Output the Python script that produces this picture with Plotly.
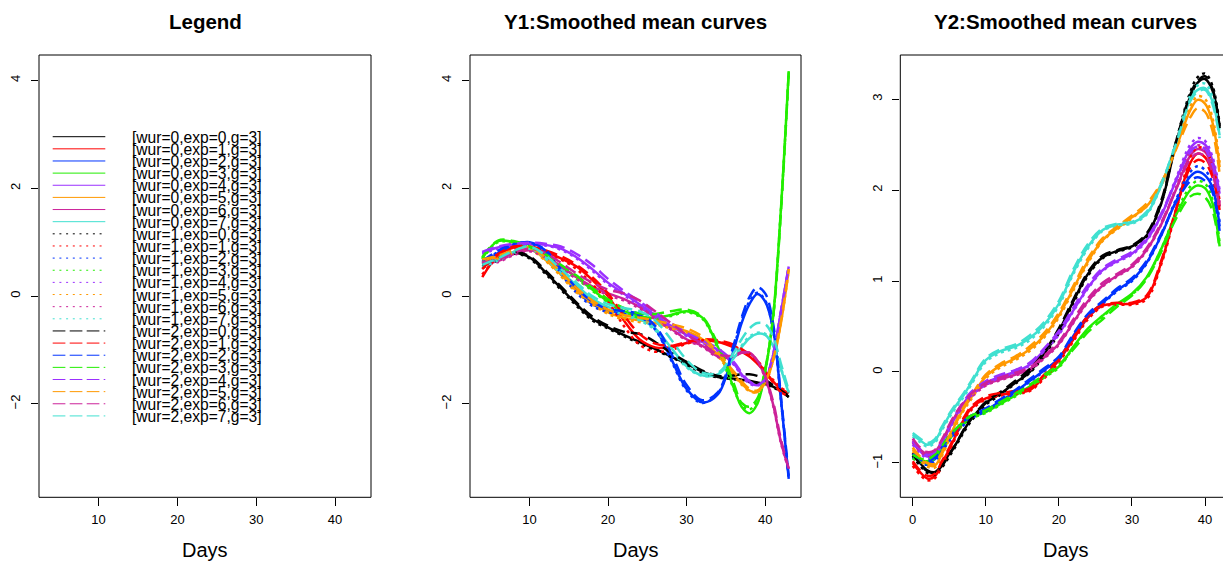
import plotly.graph_objects as go

W, H = 1223, 562

# ---------------- data ----------------
days_y1 = [4, 6, 8, 10, 12, 14, 16, 18, 20, 22, 24, 26, 28, 30, 32, 34, 36, 37, 38, 39, 40, 41, 42, 43]
days_y2 = [0, 1, 2, 3, 4, 5, 6, 7, 8, 10, 12, 14, 16, 18, 20, 22, 24, 26, 28, 30, 32, 34, 36, 38, 39, 40, 41, 42]

colors = ["#000000", "#ff0000", "#0033ff", "#22ee00", "#9b30ff", "#ff9900", "#cc2299", "#40e0d0"]
wur_levels = [0, 1, 2]
exp_levels = [0, 1, 2, 3, 4, 5, 6, 7]

# Y1 : smoothed mean curves (wur, exp)
y1_w0_e0 = [0.55,0.68,0.80,0.72,0.45,0.15,-0.15,-0.42,-0.58,-0.72,-0.85,-0.98,-1.12,-1.25,-1.40,-1.50,-1.53,-1.55,-1.57,-1.60,-1.63,-1.68,-1.76,-1.87]
y1_w1_e0 = [0.52,0.66,0.79,0.70,0.42,0.12,-0.18,-0.45,-0.60,-0.74,-0.88,-1.00,-1.13,-1.27,-1.42,-1.51,-1.54,-1.56,-1.58,-1.61,-1.64,-1.69,-1.77,-1.87]
y1_w2_e0 = [0.58,0.70,0.82,0.74,0.48,0.18,-0.12,-0.38,-0.55,-0.66,-0.70,-0.85,-1.05,-1.22,-1.38,-1.48,-1.47,-1.45,-1.45,-1.48,-1.55,-1.65,-1.75,-1.85]
y1_w0_e1 = [0.35,0.75,0.90,0.90,0.82,0.70,0.55,0.30,0.00,-0.45,-0.80,-0.95,-0.95,-0.87,-0.83,-0.85,-0.95,-1.03,-1.12,-1.25,-1.40,-1.58,-1.72,-1.80]
y1_w1_e1 = [0.40,0.72,0.88,0.88,0.80,0.68,0.50,0.22,-0.10,-0.55,-0.90,-1.03,-1.00,-0.88,-0.82,-0.84,-0.93,-1.00,-1.08,-1.20,-1.36,-1.55,-1.70,-1.78]
y1_w2_e1 = [0.50,0.78,0.92,0.92,0.85,0.74,0.58,0.35,0.05,-0.35,-0.70,-0.88,-0.92,-0.85,-0.80,-0.82,-0.90,-0.98,-1.08,-1.22,-1.40,-1.60,-1.78,-1.85]
y1_w0_e2 = [0.60,0.80,0.95,1.00,0.85,0.45,0.10,-0.15,-0.27,-0.30,-0.35,-0.60,-1.15,-1.72,-1.97,-1.82,-1.00,-0.50,-0.15,0.04,-0.10,-0.60,-1.90,-3.39]
y1_w1_e2 = [0.62,0.82,0.96,0.98,0.82,0.42,0.06,-0.18,-0.30,-0.33,-0.38,-0.62,-1.18,-1.75,-1.98,-1.80,-0.95,-0.45,-0.10,0.06,-0.08,-0.62,-1.92,-3.39]
y1_w2_e2 = [0.65,0.84,0.97,0.99,0.86,0.50,0.15,-0.10,-0.24,-0.28,-0.33,-0.55,-1.05,-1.65,-1.93,-1.78,-0.90,-0.40,-0.02,0.16,0.05,-0.50,-1.85,-3.35]
y1_w0_e3 = [0.70,1.02,1.00,0.90,0.75,0.55,0.35,0.12,-0.10,-0.28,-0.38,-0.40,-0.35,-0.28,-0.40,-0.95,-1.70,-2.05,-2.17,-2.00,-1.40,-0.40,1.60,4.17]
y1_w1_e3 = [0.68,1.00,0.99,0.88,0.72,0.52,0.32,0.10,-0.12,-0.30,-0.40,-0.42,-0.37,-0.30,-0.42,-0.98,-1.72,-2.02,-2.10,-1.95,-1.38,-0.40,1.60,4.15]
y1_w2_e3 = [0.72,1.03,1.02,0.92,0.78,0.58,0.38,0.15,-0.06,-0.22,-0.32,-0.33,-0.28,-0.25,-0.38,-0.90,-1.62,-1.98,-2.05,-1.90,-1.35,-0.42,1.55,4.15]
y1_w0_e4 = [0.80,0.90,0.95,0.97,0.95,0.88,0.72,0.50,0.25,0.05,-0.15,-0.35,-0.55,-0.72,-0.85,-1.00,-1.25,-1.45,-1.60,-1.65,-1.55,-1.10,-0.30,0.55]
y1_w1_e4 = [0.78,0.88,0.94,0.96,0.94,0.86,0.70,0.47,0.22,0.02,-0.18,-0.38,-0.57,-0.74,-0.87,-1.02,-1.27,-1.47,-1.62,-1.66,-1.55,-1.10,-0.30,0.55]
y1_w2_e4 = [0.82,0.92,0.97,0.99,0.97,0.92,0.78,0.58,0.32,0.10,-0.10,-0.30,-0.50,-0.68,-0.82,-0.97,-1.22,-1.42,-1.58,-1.64,-1.54,-1.08,-0.28,0.55]
y1_w0_e5 = [0.65,0.72,0.82,0.88,0.68,0.40,0.10,-0.12,-0.30,-0.40,-0.45,-0.50,-0.58,-0.65,-0.80,-1.10,-1.45,-1.62,-1.75,-1.78,-1.60,-1.20,-0.50,0.50]
y1_w1_e5 = [0.63,0.70,0.80,0.86,0.66,0.37,0.07,-0.15,-0.33,-0.43,-0.48,-0.52,-0.60,-0.67,-0.82,-1.12,-1.47,-1.64,-1.76,-1.78,-1.60,-1.20,-0.50,0.48]
y1_w2_e5 = [0.68,0.75,0.85,0.90,0.72,0.45,0.15,-0.08,-0.25,-0.35,-0.40,-0.45,-0.52,-0.60,-0.75,-1.05,-1.40,-1.58,-1.72,-1.75,-1.58,-1.18,-0.48,0.50]
y1_w0_e6 = [0.60,0.65,0.78,0.85,0.75,0.55,0.35,0.18,0.05,-0.05,-0.20,-0.40,-0.60,-0.80,-0.92,-1.12,-1.12,-1.05,-1.05,-1.20,-1.50,-2.00,-2.70,-3.20]
y1_w1_e6 = [0.58,0.63,0.76,0.83,0.72,0.52,0.32,0.15,0.02,-0.08,-0.23,-0.43,-0.62,-0.82,-0.94,-1.13,-1.12,-1.05,-1.06,-1.22,-1.52,-2.02,-2.72,-3.22]
y1_w2_e6 = [0.62,0.68,0.80,0.88,0.80,0.62,0.42,0.25,0.12,0.05,-0.08,-0.28,-0.50,-0.72,-0.88,-1.08,-1.10,-1.04,-1.05,-1.20,-1.48,-1.95,-2.65,-3.20]
y1_w0_e7 = [0.55,0.68,0.82,0.90,0.72,0.45,0.20,-0.05,-0.20,-0.32,-0.42,-0.60,-0.95,-1.30,-1.47,-1.45,-1.15,-0.95,-0.78,-0.70,-0.72,-0.92,-1.35,-1.80]
y1_w1_e7 = [0.53,0.66,0.80,0.88,0.70,0.42,0.17,-0.08,-0.23,-0.35,-0.45,-0.63,-0.98,-1.32,-1.48,-1.44,-1.12,-0.92,-0.75,-0.68,-0.70,-0.90,-1.33,-1.78]
y1_w2_e7 = [0.58,0.70,0.84,0.92,0.76,0.50,0.25,0.00,-0.15,-0.22,-0.28,-0.45,-0.80,-1.18,-1.42,-1.42,-1.05,-0.80,-0.60,-0.50,-0.52,-0.75,-1.25,-1.75]

# Y2 : smoothed mean curves (wur, exp)
y2_w0_e0 = [-0.89,-1.00,-1.08,-1.10,-1.02,-0.90,-0.78,-0.64,-0.52,-0.34,-0.24,-0.12,0.00,0.20,0.45,0.78,1.08,1.26,1.33,1.38,1.50,1.85,2.50,3.03,3.18,3.22,3.10,2.70]
y2_w1_e0 = [-0.92,-1.03,-1.11,-1.13,-1.05,-0.93,-0.80,-0.66,-0.54,-0.36,-0.25,-0.13,-0.01,0.18,0.43,0.76,1.06,1.25,1.32,1.37,1.49,1.85,2.52,3.08,3.24,3.28,3.15,2.72]
y2_w2_e0 = [-0.90,-1.01,-1.09,-1.11,-1.03,-0.91,-0.78,-0.63,-0.51,-0.33,-0.22,-0.10,0.03,0.22,0.48,0.80,1.10,1.28,1.34,1.39,1.52,1.88,2.52,3.05,3.20,3.25,3.12,2.68]
y2_w0_e1 = [-1.00,-1.10,-1.17,-1.15,-1.00,-0.85,-0.68,-0.52,-0.40,-0.29,-0.25,-0.23,-0.20,-0.05,0.13,0.36,0.60,0.73,0.75,0.75,0.82,1.20,1.77,2.30,2.40,2.36,2.20,1.82]
y2_w1_e1 = [-1.03,-1.13,-1.19,-1.17,-1.03,-0.87,-0.70,-0.54,-0.42,-0.30,-0.26,-0.24,-0.21,-0.07,0.11,0.34,0.58,0.72,0.74,0.74,0.80,1.18,1.76,2.36,2.47,2.44,2.28,1.88]
y2_w2_e1 = [-0.98,-1.08,-1.14,-1.12,-0.98,-0.83,-0.66,-0.50,-0.38,-0.27,-0.23,-0.21,-0.18,-0.03,0.15,0.38,0.62,0.74,0.76,0.76,0.84,1.22,1.78,2.25,2.33,2.30,2.15,1.78]
y2_w0_e2 = [-0.92,-0.98,-1.00,-0.96,-0.85,-0.74,-0.64,-0.56,-0.50,-0.42,-0.32,-0.22,-0.10,0.02,0.15,0.40,0.62,0.76,0.90,1.01,1.20,1.50,1.87,2.15,2.20,2.16,2.03,1.60]
y2_w1_e2 = [-0.94,-1.00,-1.02,-0.98,-0.87,-0.76,-0.66,-0.58,-0.51,-0.43,-0.33,-0.23,-0.11,0.01,0.14,0.39,0.61,0.75,0.89,1.00,1.19,1.50,1.89,2.20,2.26,2.22,2.08,1.65]
y2_w2_e2 = [-0.90,-0.96,-0.98,-0.94,-0.83,-0.72,-0.62,-0.54,-0.48,-0.40,-0.30,-0.20,-0.08,0.04,0.17,0.42,0.64,0.78,0.92,1.03,1.22,1.52,1.86,2.10,2.14,2.10,1.98,1.55]
y2_w0_e3 = [-0.93,-0.97,-0.98,-0.93,-0.83,-0.72,-0.64,-0.56,-0.50,-0.44,-0.35,-0.26,-0.16,-0.05,0.06,0.28,0.48,0.62,0.75,0.86,1.04,1.35,1.72,2.00,2.05,2.02,1.86,1.38]
y2_w1_e3 = [-0.95,-0.99,-1.00,-0.95,-0.85,-0.74,-0.65,-0.57,-0.51,-0.45,-0.36,-0.27,-0.17,-0.06,0.05,0.27,0.47,0.61,0.74,0.85,1.03,1.35,1.74,2.04,2.10,2.07,1.90,1.42]
y2_w2_e3 = [-0.91,-0.95,-0.96,-0.91,-0.81,-0.70,-0.62,-0.54,-0.48,-0.42,-0.33,-0.24,-0.14,-0.03,0.08,0.25,0.44,0.58,0.72,0.84,1.02,1.32,1.68,1.93,1.96,1.92,1.78,1.35]
y2_w0_e4 = [-0.78,-0.87,-0.93,-0.90,-0.78,-0.62,-0.47,-0.34,-0.24,-0.12,-0.05,0.00,0.08,0.24,0.42,0.68,0.93,1.12,1.22,1.30,1.45,1.72,2.10,2.46,2.53,2.50,2.33,1.96]
y2_w1_e4 = [-0.80,-0.89,-0.95,-0.92,-0.80,-0.64,-0.49,-0.36,-0.26,-0.14,-0.06,-0.01,0.07,0.23,0.41,0.67,0.92,1.11,1.21,1.29,1.44,1.72,2.12,2.50,2.57,2.54,2.37,2.00]
y2_w2_e4 = [-0.76,-0.85,-0.91,-0.88,-0.76,-0.60,-0.45,-0.32,-0.22,-0.10,-0.03,0.02,0.10,0.26,0.45,0.71,0.96,1.14,1.24,1.32,1.47,1.74,2.10,2.42,2.48,2.45,2.28,1.92]
y2_w0_e5 = [-0.85,-0.95,-1.02,-1.03,-0.90,-0.72,-0.55,-0.40,-0.28,-0.05,0.07,0.15,0.25,0.40,0.62,0.92,1.22,1.45,1.58,1.70,1.82,2.05,2.45,2.88,2.99,2.95,2.75,2.25]
y2_w1_e5 = [-0.87,-0.97,-1.04,-1.05,-0.92,-0.74,-0.57,-0.42,-0.30,-0.07,0.05,0.13,0.23,0.38,0.60,0.90,1.20,1.44,1.57,1.69,1.82,2.06,2.48,2.92,3.03,3.00,2.80,2.30]
y2_w2_e5 = [-0.83,-0.93,-1.00,-1.01,-0.88,-0.70,-0.53,-0.38,-0.26,-0.03,0.09,0.17,0.28,0.43,0.65,0.95,1.25,1.47,1.60,1.72,1.85,2.08,2.44,2.80,2.90,2.86,2.66,2.18]
y2_w0_e6 = [-0.75,-0.85,-0.90,-0.88,-0.76,-0.60,-0.46,-0.35,-0.26,-0.14,-0.08,-0.03,0.03,0.16,0.31,0.55,0.78,0.95,1.06,1.16,1.34,1.62,2.00,2.38,2.45,2.42,2.25,1.82]
y2_w1_e6 = [-0.77,-0.87,-0.92,-0.90,-0.78,-0.62,-0.48,-0.37,-0.28,-0.15,-0.09,-0.04,0.02,0.15,0.30,0.54,0.77,0.94,1.05,1.15,1.33,1.62,2.02,2.42,2.49,2.46,2.29,1.86]
y2_w2_e6 = [-0.73,-0.83,-0.88,-0.86,-0.74,-0.58,-0.44,-0.33,-0.24,-0.12,-0.06,-0.01,0.05,0.18,0.33,0.58,0.81,0.98,1.08,1.18,1.36,1.64,2.00,2.34,2.40,2.37,2.20,1.78]
y2_w0_e7 = [-0.69,-0.75,-0.80,-0.76,-0.62,-0.48,-0.36,-0.25,-0.12,0.13,0.23,0.28,0.37,0.52,0.75,1.10,1.38,1.56,1.62,1.64,1.74,2.05,2.50,3.00,3.10,3.12,2.98,2.60]
y2_w1_e7 = [-0.71,-0.77,-0.82,-0.78,-0.64,-0.50,-0.38,-0.27,-0.14,0.11,0.21,0.26,0.35,0.50,0.73,1.08,1.36,1.55,1.61,1.63,1.73,2.05,2.52,3.04,3.15,3.17,3.03,2.64]
y2_w2_e7 = [-0.67,-0.73,-0.78,-0.74,-0.60,-0.46,-0.34,-0.23,-0.10,0.15,0.25,0.30,0.40,0.55,0.78,1.13,1.41,1.58,1.63,1.65,1.76,2.07,2.50,2.98,3.08,3.10,2.95,2.57]

x_ticks_y1 = [10, 20, 30, 40]
y_ticks_y1 = [-2, 0, 2, 4]
x_ticks_y2 = [0, 10, 20, 30, 40]
y_ticks_y2 = [-1, 0, 1, 2, 3]

titles = ["Legend", "Y1:Smoothed mean curves", "Y2:Smoothed mean curves"]
x_label = "Days"

series_y1 = {
    (0, 0): y1_w0_e0, (1, 0): y1_w1_e0, (2, 0): y1_w2_e0,
    (0, 1): y1_w0_e1, (1, 1): y1_w1_e1, (2, 1): y1_w2_e1,
    (0, 2): y1_w0_e2, (1, 2): y1_w1_e2, (2, 2): y1_w2_e2,
    (0, 3): y1_w0_e3, (1, 3): y1_w1_e3, (2, 3): y1_w2_e3,
    (0, 4): y1_w0_e4, (1, 4): y1_w1_e4, (2, 4): y1_w2_e4,
    (0, 5): y1_w0_e5, (1, 5): y1_w1_e5, (2, 5): y1_w2_e5,
    (0, 6): y1_w0_e6, (1, 6): y1_w1_e6, (2, 6): y1_w2_e6,
    (0, 7): y1_w0_e7, (1, 7): y1_w1_e7, (2, 7): y1_w2_e7,
}
series_y2 = {
    (0, 0): y2_w0_e0, (1, 0): y2_w1_e0, (2, 0): y2_w2_e0,
    (0, 1): y2_w0_e1, (1, 1): y2_w1_e1, (2, 1): y2_w2_e1,
    (0, 2): y2_w0_e2, (1, 2): y2_w1_e2, (2, 2): y2_w2_e2,
    (0, 3): y2_w0_e3, (1, 3): y2_w1_e3, (2, 3): y2_w2_e3,
    (0, 4): y2_w0_e4, (1, 4): y2_w1_e4, (2, 4): y2_w2_e4,
    (0, 5): y2_w0_e5, (1, 5): y2_w1_e5, (2, 5): y2_w2_e5,
    (0, 6): y2_w0_e6, (1, 6): y2_w1_e6, (2, 6): y2_w2_e6,
    (0, 7): y2_w0_e7, (1, 7): y2_w1_e7, (2, 7): y2_w2_e7,
}

# ---------------- styling ----------------
FONT = "Liberation Sans, Arial, Helvetica, sans-serif"
plot_dash = {0: "solid", 1: "3px,4px", 2: "12px,6px"}
legend_dash = {0: "solid", 1: "2px,4.7px", 2: "12.7px,4.3px"}
LW = 2.5


def px(x):
    return x / W


def py(y):
    return 1 - y / H


TOP, BOT = 55.0, 497.3
panels = [(39.0, 371.0), (470.0, 801.0), (900.3, 1231.6)]

fig = go.Figure()

# empty trace so the legend panel axes are drawn
fig.add_trace(go.Scatter(x=[None], y=[None], xaxis="x", yaxis="y", showlegend=False, hoverinfo="skip"))

for w in wur_levels:
    for e in exp_levels:
        fig.add_trace(go.Scatter(
            x=days_y1, y=series_y1[(w, e)], mode="lines", xaxis="x2", yaxis="y2",
            line=dict(color=colors[e], width=LW, dash=plot_dash[w], shape="spline", smoothing=1.0),
            name=f"[wur={w},exp={e},g=3]", showlegend=False))
for w in wur_levels:
    for e in exp_levels:
        fig.add_trace(go.Scatter(
            x=days_y2, y=series_y2[(w, e)], mode="lines", xaxis="x3", yaxis="y3",
            line=dict(color=colors[e], width=LW, dash=plot_dash[w], shape="spline", smoothing=1.0),
            name=f"[wur={w},exp={e},g=3]", showlegend=False))

ydom = [py(BOT), py(TOP)]
common_x = dict(showgrid=False, zeroline=False, showline=False, ticks="outside", ticklen=7.5,
                tickwidth=1, tickcolor="black", tickfont=dict(family=FONT, size=13, color="black"),
                ticklabelstandoff=3, fixedrange=True)
common_y = dict(showgrid=False, zeroline=False, showline=False, ticks="outside", ticklen=7.5,
                tickwidth=1, tickcolor="black", tickfont=dict(family=FONT, size=13, color="black"),
                tickangle=-90, ticklabelstandoff=5, fixedrange=True)

x3_right_px = W  # visible part of the third panel
x3_scale = (1205.0 - 912.7) / 40.0
x3_range = [-1.70, (x3_right_px - 912.7) / x3_scale]

fig.update_layout(
    width=W, height=H, margin=dict(l=0, r=0, t=0, b=0), autosize=False,
    paper_bgcolor="white", plot_bgcolor="white", showlegend=False,
    xaxis=dict(domain=[px(panels[0][0]), px(panels[0][1])], range=[2.44, 44.56],
               tickvals=x_ticks_y1, anchor="y", **common_x),
    yaxis=dict(domain=ydom, range=[-3.73, 4.47], tickvals=y_ticks_y1, anchor="x", **common_y),
    xaxis2=dict(domain=[px(panels[1][0]), px(panels[1][1])], range=[2.44, 44.56],
                tickvals=x_ticks_y1, anchor="y2", **common_x),
    yaxis2=dict(domain=ydom, range=[-3.73, 4.47], tickvals=y_ticks_y1, anchor="x2", **common_y),
    xaxis3=dict(domain=[px(panels[2][0]), 1.0], range=x3_range,
                tickvals=x_ticks_y2, anchor="y3", **common_x),
    yaxis3=dict(domain=ydom, range=[-1.377, 3.4835], tickvals=y_ticks_y2, anchor="x3", **common_y),
)

shapes = []
annotations = []
for (l, r), title in zip(panels, titles):
    shapes.append(dict(type="rect", xref="paper", yref="paper", x0=px(l), x1=px(r),
                       y0=py(BOT), y1=py(TOP), line=dict(color="black", width=1), layer="above"))
    cx = (l + r) / 2
    annotations.append(dict(text=f"<b>{title}</b>", x=px(cx), y=py(22), xref="paper", yref="paper",
                            showarrow=False, xanchor="center", yanchor="middle",
                            font=dict(family=FONT, size=20.5, color="black")))
    annotations.append(dict(text=x_label, x=px(cx), y=py(550), xref="paper", yref="paper",
                            showarrow=False, xanchor="center", yanchor="middle",
                            font=dict(family=FONT, size=20, color="black")))

# manual legend (R-style, overlapping rows)
row0, row_step = 136.7, 12.14
i = 0
for w in wur_levels:
    for e in exp_levels:
        yy = row0 + i * row_step
        shapes.append(dict(type="line", xref="paper", yref="paper", x0=px(52.7), x1=px(105.3),
                           y0=py(yy), y1=py(yy),
                           line=dict(color=colors[e], width=1, dash=legend_dash[w])))
        annotations.append(dict(text=f"[wur={w},exp={e},g=3]", x=px(130.0), y=py(yy + 0.5),
                                xref="paper", yref="paper", showarrow=False,
                                xanchor="left", yanchor="middle",
                                font=dict(family=FONT, size=15.6, color="black")))
        i += 1

fig.update_layout(shapes=shapes, annotations=annotations)

fig.write_html("out.html", config={"displayModeBar": False},
               post_script="document.body.style.margin='0';document.body.style.overflow='hidden';")
